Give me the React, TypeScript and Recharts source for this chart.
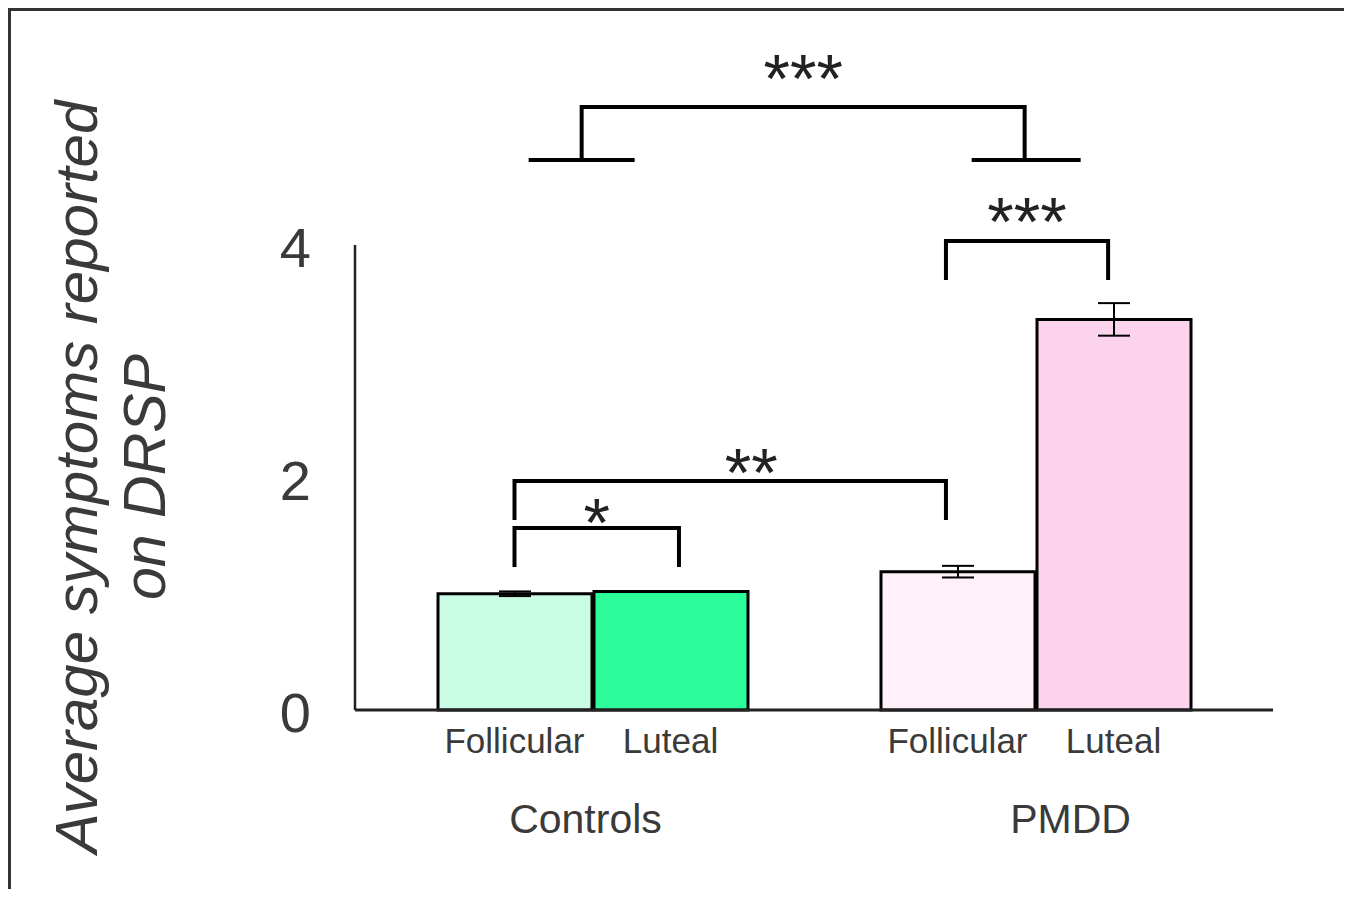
import React from 'react';
import { BarChart, Bar, XAxis, YAxis, Cell, ErrorBar } from 'recharts';

const groups = ['Controls', 'PMDD'];
const phases = ['Follicular', 'Luteal'];
const follicular = [1.0, 1.19];
const luteal = [1.02, 3.36];
const follicularErr = [0.02, 0.05];
const lutealErr = [0, 0.14];
const yTicks = [0, 2, 4];
const yTitle = ['Average symptoms reported', 'on DRSP'];

const follicularColors = ['#c8fce5', '#fff0fa'];
const lutealColors = ['#2cfd9a', '#fbd3ed'];

const data = groups.map((g, i) => ({
  group: g,
  follicular: follicular[i],
  luteal: luteal[i],
  follicularErr: follicularErr[i],
  lutealErr: lutealErr[i],
}));

// significance brackets: [group index, phase index, position along the bar]
const pairBrackets = [
  { stars: '*', a: [0, 0, 0.5], b: [0, 1, 0.555], top: 1.566, foot: 1.23, textAt: 1.686, textDx: 0 },
  { stars: '**', a: [0, 0, 0.5], b: [1, 0, 0.425], top: 1.97, foot: 1.634, textAt: 2.116, textDx: 21 },
  { stars: '***', a: [1, 0, 0.425], b: [1, 1, 0.465], top: 4.034, foot: 3.7, textAt: 4.275, textDx: 0 },
];
const groupBracket = { stars: '***', at: 0.465, top: 5.187, foot: 4.731, textAt: 5.505, footHalf: 53 };

const W = 1330;
const H = 880;
const MARGIN = { top: 237, right: 65, bottom: 8, left: 287 };
const Y_AXIS_W = 60;
const X_AXIS_H = 170;
const X_PAD = 16;
const BAR_SIZE = 154;
const BAR_GAP = 2;
const Y_MAX = 4;
const FONT = '"Liberation Sans", Arial, Helvetica, sans-serif';
const TEXT = '#3a3a3a';

const plotLeft = MARGIN.left + Y_AXIS_W;
const plotTop = MARGIN.top;
const plotW = W - plotLeft - MARGIN.right;
const plotH = H - MARGIN.top - MARGIN.bottom - X_AXIS_H;
const bandW = (plotW - 2 * X_PAD) / groups.length;

const yPx = (v: number) => plotTop + plotH * (1 - v / Y_MAX);
const groupCenter = (g: number) => plotLeft + X_PAD + bandW * (g + 0.5);
const groupLeft = (g: number) => groupCenter(g) - (2 * BAR_SIZE + BAR_GAP) / 2;
const barX = (g: number, p: number, at: number) => groupLeft(g) + p * (BAR_SIZE + BAR_GAP) + at * BAR_SIZE;

const STAR_SIZE = 68;

function XTick(props: any) {
  const { x, y, payload } = props;
  const shift = payload.value === 'PMDD' ? 35 : -7;
  const off = (BAR_SIZE + BAR_GAP) / 2;
  return (
    <g fill={TEXT} fontFamily={FONT}>
      <text x={x - off} y={y + 43} textAnchor="middle" fontSize={35}>{phases[0]}</text>
      <text x={x + off} y={y + 43} textAnchor="middle" fontSize={35}>{phases[1]}</text>
      <text x={x + shift} y={y + 123} textAnchor="middle" fontSize={41}>{payload.value}</text>
    </g>
  );
}

function YTick(props: any) {
  const { x, y, payload } = props;
  return (
    <text x={x} y={y + 22} textAnchor="end" fontSize={56} fill={TEXT} fontFamily={FONT}>
      {payload.value}
    </text>
  );
}

function Annotations() {
  const lineProps = { fill: 'none', stroke: '#000', strokeWidth: 4, strokeLinejoin: 'miter' as const };
  const starY = (v: number) => yPx(v) + 0.47 * STAR_SIZE;
  const gx0 = groupLeft(0) + groupBracket.at * (2 * BAR_SIZE + BAR_GAP);
  const gx1 = groupLeft(1) + groupBracket.at * (2 * BAR_SIZE + BAR_GAP);
  return (
    <svg width={W} height={H} style={{ position: 'absolute', left: -3, top: -3, pointerEvents: 'none' }}>
      <g fontFamily={FONT} fill={TEXT} fontStyle="italic" fontSize={60} textAnchor="middle">
        <text transform={`translate(89, 469) rotate(-90)`}>{yTitle[0]}</text>
        <text transform={`translate(157, 469) rotate(-90)`} fontSize={59}>{yTitle[1]}</text>
      </g>
      {pairBrackets.map((b, i) => {
        const x1 = barX(b.a[0], b.a[1], b.a[2]);
        const x2 = barX(b.b[0], b.b[1], b.b[2]);
        return (
          <g key={i}>
            <polyline
              {...lineProps}
              points={`${x1},${yPx(b.foot)} ${x1},${yPx(b.top)} ${x2},${yPx(b.top)} ${x2},${yPx(b.foot)}`}
            />
            <text x={(x1 + x2) / 2 + b.textDx} y={starY(b.textAt)} textAnchor="middle" fontSize={STAR_SIZE} fill="#222" fontFamily={FONT}>
              {b.stars}
            </text>
          </g>
        );
      })}
      <g>
        <polyline
          {...lineProps}
          points={`${gx0},${yPx(groupBracket.foot)} ${gx0},${yPx(groupBracket.top)} ${gx1},${yPx(groupBracket.top)} ${gx1},${yPx(groupBracket.foot)}`}
        />
        <line {...lineProps} x1={gx0 - groupBracket.footHalf} x2={gx0 + groupBracket.footHalf} y1={yPx(groupBracket.foot)} y2={yPx(groupBracket.foot)} />
        <line {...lineProps} x1={gx1 - groupBracket.footHalf} x2={gx1 + groupBracket.footHalf + 3} y1={yPx(groupBracket.foot)} y2={yPx(groupBracket.foot)} />
        <text x={(gx0 + gx1) / 2} y={starY(groupBracket.textAt)} textAnchor="middle" fontSize={STAR_SIZE} fill="#222" fontFamily={FONT}>
          {groupBracket.stars}
        </text>
      </g>
    </svg>
  );
}

export default function App() {
  return (
    <div
      style={{
        position: 'relative',
        width: 1341,
        height: 889,
        marginBottom: -8,
        border: '3px solid #333',
        borderBottom: 'none',
        boxSizing: 'border-box',
        background: '#fff',
        fontFamily: FONT,
      }}
    >
      <div style={{ position: 'absolute', left: -3, top: -3 }}>
        <BarChart width={W} height={H} data={data} margin={MARGIN} barSize={BAR_SIZE} barGap={BAR_GAP}>
          <XAxis
            dataKey="group"
            height={X_AXIS_H}
            padding={{ left: X_PAD, right: X_PAD }}
            axisLine={{ stroke: '#222', strokeWidth: 3 }}
            tickLine={false}
            tickSize={0}
            tickMargin={0}
            interval={0}
            tick={<XTick />}
          />
          <YAxis
            width={Y_AXIS_W}
            domain={[0, Y_MAX]}
            ticks={yTicks}
            axisLine={{ stroke: '#222', strokeWidth: 2.5 }}
            tickLine={false}
            tickSize={0}
            tickMargin={44}
            interval={0}
            tick={<YTick />}
          />
          <Bar dataKey="follicular" stroke="#000" strokeWidth={3} isAnimationActive={false}>
            {data.map((d, i) => (
              <Cell key={d.group} fill={follicularColors[i]} />
            ))}
            <ErrorBar dataKey="follicularErr" width={16} stroke="#000" strokeWidth={2} direction="y" isAnimationActive={false} />
          </Bar>
          <Bar dataKey="luteal" stroke="#000" strokeWidth={3} isAnimationActive={false}>
            {data.map((d, i) => (
              <Cell key={d.group} fill={lutealColors[i]} />
            ))}
            <ErrorBar dataKey="lutealErr" width={16} stroke="#000" strokeWidth={2} direction="y" isAnimationActive={false} />
          </Bar>
        </BarChart>
      </div>
      <Annotations />
    </div>
  );
}
